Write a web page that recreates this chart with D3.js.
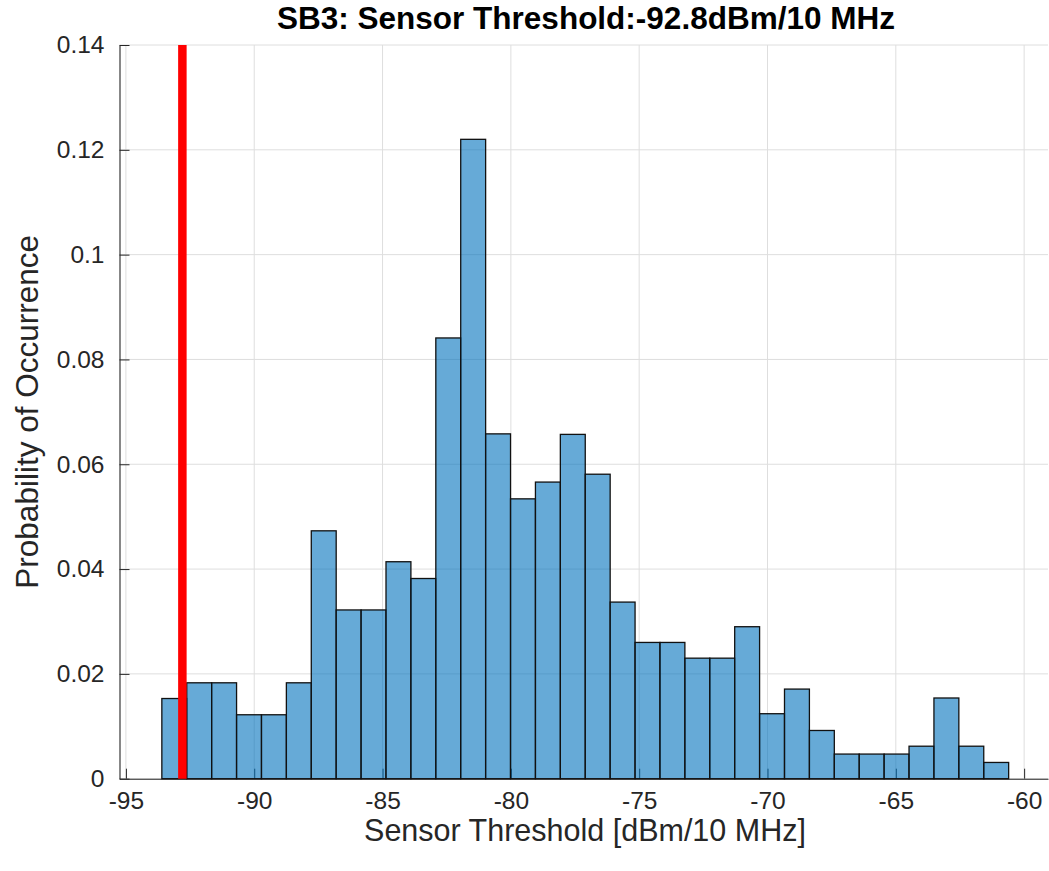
<!DOCTYPE html>
<html>
<head>
<meta charset="utf-8">
<script src="https://cdn.jsdelivr.net/npm/d3@7"></script>
<style>
  html, body { margin: 0; padding: 0; background: #fff; }
  svg { display: block; }
  text { font-family: "Liberation Sans", Arial, Helvetica, sans-serif; }
</style>
</head>
<body>
<svg id="chart" width="1049" height="871"></svg>
<script>
// ---- data ----
const titleText = "SB3: Sensor Threshold:-92.8dBm/10 MHz";
const xLabel = "Sensor Threshold [dBm/10 MHz]";
const yLabel = "Probability of Occurrence";
const binStart = -93.6;
const binWidth = 0.9705;
const probabilities = [
  0.0153, 0.0183, 0.0183, 0.0122, 0.0122, 0.0183, 0.0473, 0.0322, 0.0322, 0.0414,
  0.0382, 0.0841, 0.1220, 0.0658, 0.0534, 0.0566, 0.0657, 0.0581, 0.0337, 0.0260,
  0.0260, 0.0230, 0.0230, 0.0290, 0.0124, 0.0171, 0.0092, 0.0047, 0.0047, 0.0047,
  0.0062, 0.0154, 0.0062, 0.0031
];
const threshold = -92.8;
const xTicks = [-95, -90, -85, -80, -75, -70, -65, -60];
const yTicks = [0, 0.02, 0.04, 0.06, 0.08, 0.1, 0.12, 0.14];

// ---- layout ----
const svg = d3.select("#chart");
const pL = 119.5, pR = 1048, pT = 45, pB = 778.7;
const x = d3.scaleLinear().domain([-95.25, -59.07]).range([pL, pR]);
const y = d3.scaleLinear().domain([0, 0.14]).range([pB, pT]);
const axisColor = "#262626";

const bins = probabilities.map((p, i) => ({
  x0: binStart + i * binWidth,
  x1: binStart + (i + 1) * binWidth,
  p
}));

// grid
const grid = svg.append("g");
grid.selectAll(".gx").data(xTicks).enter().append("line")
  .attr("x1", d => x(d)).attr("x2", d => x(d))
  .attr("y1", pT).attr("y2", pB)
  .attr("stroke", "#dedede").attr("stroke-width", 1);
grid.selectAll(".gy").data(yTicks).enter().append("line")
  .attr("x1", pL).attr("x2", pR)
  .attr("y1", d => y(d)).attr("y2", d => y(d))
  .attr("stroke", "#dedede").attr("stroke-width", 1);

// axes
const xAxis = d3.axisBottom(x).tickValues(xTicks).tickSizeInner(-10).tickSizeOuter(0)
  .tickPadding(13).tickFormat(d3.format("d"));
const gx = svg.append("g").attr("transform", `translate(0,${pB})`).call(xAxis);
gx.select(".domain").attr("stroke", axisColor).attr("stroke-width", 1.1);
gx.selectAll(".tick line").attr("stroke", axisColor);
gx.selectAll(".tick text").attr("fill", axisColor).attr("font-size", 24.5)
  .text(d => d < 0 ? "-" + Math.abs(d) : d);

const yAxis = d3.axisLeft(y).tickValues(yTicks).tickSizeInner(-10).tickSizeOuter(0)
  .tickPadding(15).tickFormat(d => d === 0 ? "0" : String(+d.toFixed(2)));
const gy = svg.append("g").attr("transform", `translate(${pL},0)`).call(yAxis);
gy.select(".domain").attr("stroke", axisColor).attr("stroke-width", 1.1);
gy.selectAll(".tick line").attr("stroke", axisColor);
gy.selectAll(".tick text").attr("fill", axisColor).attr("font-size", 24.5);

// bars
svg.append("g").selectAll("rect").data(bins).enter().append("rect")
  .attr("x", d => x(d.x0))
  .attr("width", d => x(d.x1) - x(d.x0))
  .attr("y", d => y(d.p))
  .attr("height", d => y(0) - y(d.p))
  .attr("fill", "rgb(0,114,189)").attr("fill-opacity", 0.6)
  .attr("stroke", "#111").attr("stroke-width", 1.3);

// threshold line
svg.append("line")
  .attr("x1", x(threshold)).attr("x2", x(threshold))
  .attr("y1", pT).attr("y2", pB)
  .attr("stroke", "#ff0000").attr("stroke-width", 8.5);

// title and labels
svg.append("text").attr("x", 586).attr("y", 29)
  .attr("text-anchor", "middle").attr("font-weight", "bold").attr("font-size", 31.5)
  .attr("fill", "#000").text(titleText);
svg.append("text").attr("x", 585).attr("y", 841)
  .attr("text-anchor", "middle").attr("font-size", 30.5)
  .attr("fill", axisColor).text(xLabel);
svg.append("text").attr("transform", `translate(38,${(pT + pB) / 2}) rotate(-90)`)
  .attr("text-anchor", "middle").attr("font-size", 31.5)
  .attr("fill", axisColor).text(yLabel);
</script>
</body>
</html>
